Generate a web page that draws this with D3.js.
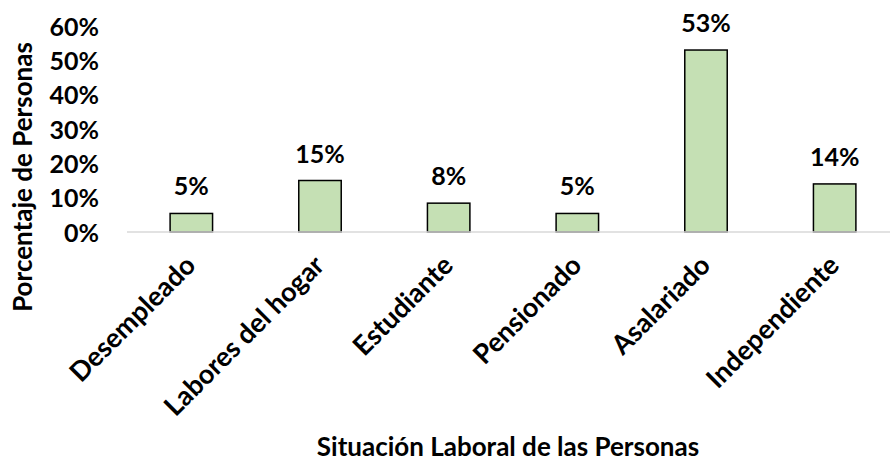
<!DOCTYPE html>
<html>
<head>
<meta charset="utf-8">
<script src="https://cdn.jsdelivr.net/npm/d3@7"></script>
<style>
  html, body { margin: 0; padding: 0; background: #fff; }
  svg { display: block; font-family: Lato, "Open Sans", sans-serif; font-weight: bold; }
</style>
</head>
<body>
<div id="chart"></div>
<script>
const categories = ['Desempleado', 'Labores del hogar', 'Estudiante', 'Pensionado', 'Asalariado', 'Independiente'];
const values = [0.054, 0.15, 0.084, 0.054, 0.53, 0.14];
const valueLabels = ['5%', '15%', '8%', '5%', '53%', '14%'];
const yTicks = [0, 0.1, 0.2, 0.3, 0.4, 0.5, 0.6];

const width = 890;
const height = 465;

const svg = d3.select('#chart')
	.append('svg')
	.attr('width', width)
	.attr('height', height);

const x = d3.scaleBand()
	.domain(categories)
	.range([127, 899])
	.paddingInner(0.67)
	.paddingOuter(0.335);

const y = d3.scaleLinear()
	.domain([0, 0.6])
	.range([232, 26]);

// y tick labels, no axis line
svg.append('g')
	.selectAll('text')
	.data(yTicks)
	.join('text')
	.attr('x', 99)
	.attr('y', (d) => y(d))
	.attr('dy', '0.38em')
	.attr('text-anchor', 'end')
	.attr('font-size', 25)
	.text((d) => d3.format('.0%')(d));

// bars
svg.append('g')
	.selectAll('rect')
	.data(values)
	.join('rect')
	.attr('x', (d, i) => x(categories[i]))
	.attr('y', (d) => y(d))
	.attr('width', x.bandwidth())
	.attr('height', (d) => y(0) - y(d))
	.attr('fill', '#c5e0b4')
	.attr('stroke', '#000')
	.attr('stroke-width', 1.5);

// baseline
svg.append('line')
	.attr('x1', 127)
	.attr('x2', width)
	.attr('y1', y(0))
	.attr('y2', y(0))
	.attr('stroke', '#d9d9d9')
	.attr('stroke-width', 1.5);

// value labels
svg.append('g')
	.selectAll('text')
	.data(values)
	.join('text')
	.attr('x', (d, i) => x(categories[i]) + x.bandwidth() / 2)
	.attr('y', (d) => y(d) - 18)
	.attr('text-anchor', 'middle')
	.attr('font-size', 25)
	.text((d, i) => valueLabels[i]);

// category labels
svg.append('g')
	.selectAll('text')
	.data(categories)
	.join('text')
	.attr('transform', (d) => `translate(${x(d) + x.bandwidth() / 2 + 6},${y(0) + 35}) rotate(-45)`)
	.attr('text-anchor', 'end')
	.attr('font-size', 27)
	.text((d) => d);

// axis titles
svg.append('text')
	.attr('x', 508)
	.attr('y', 456)
	.attr('text-anchor', 'middle')
	.attr('font-size', 26)
	.text('Situación Laboral de las Personas');

svg.append('text')
	.attr('transform', 'translate(32,177) rotate(-90)')
	.attr('text-anchor', 'middle')
	.attr('font-size', 26)
	.text('Porcentaje de Personas');
</script>
</body>
</html>
